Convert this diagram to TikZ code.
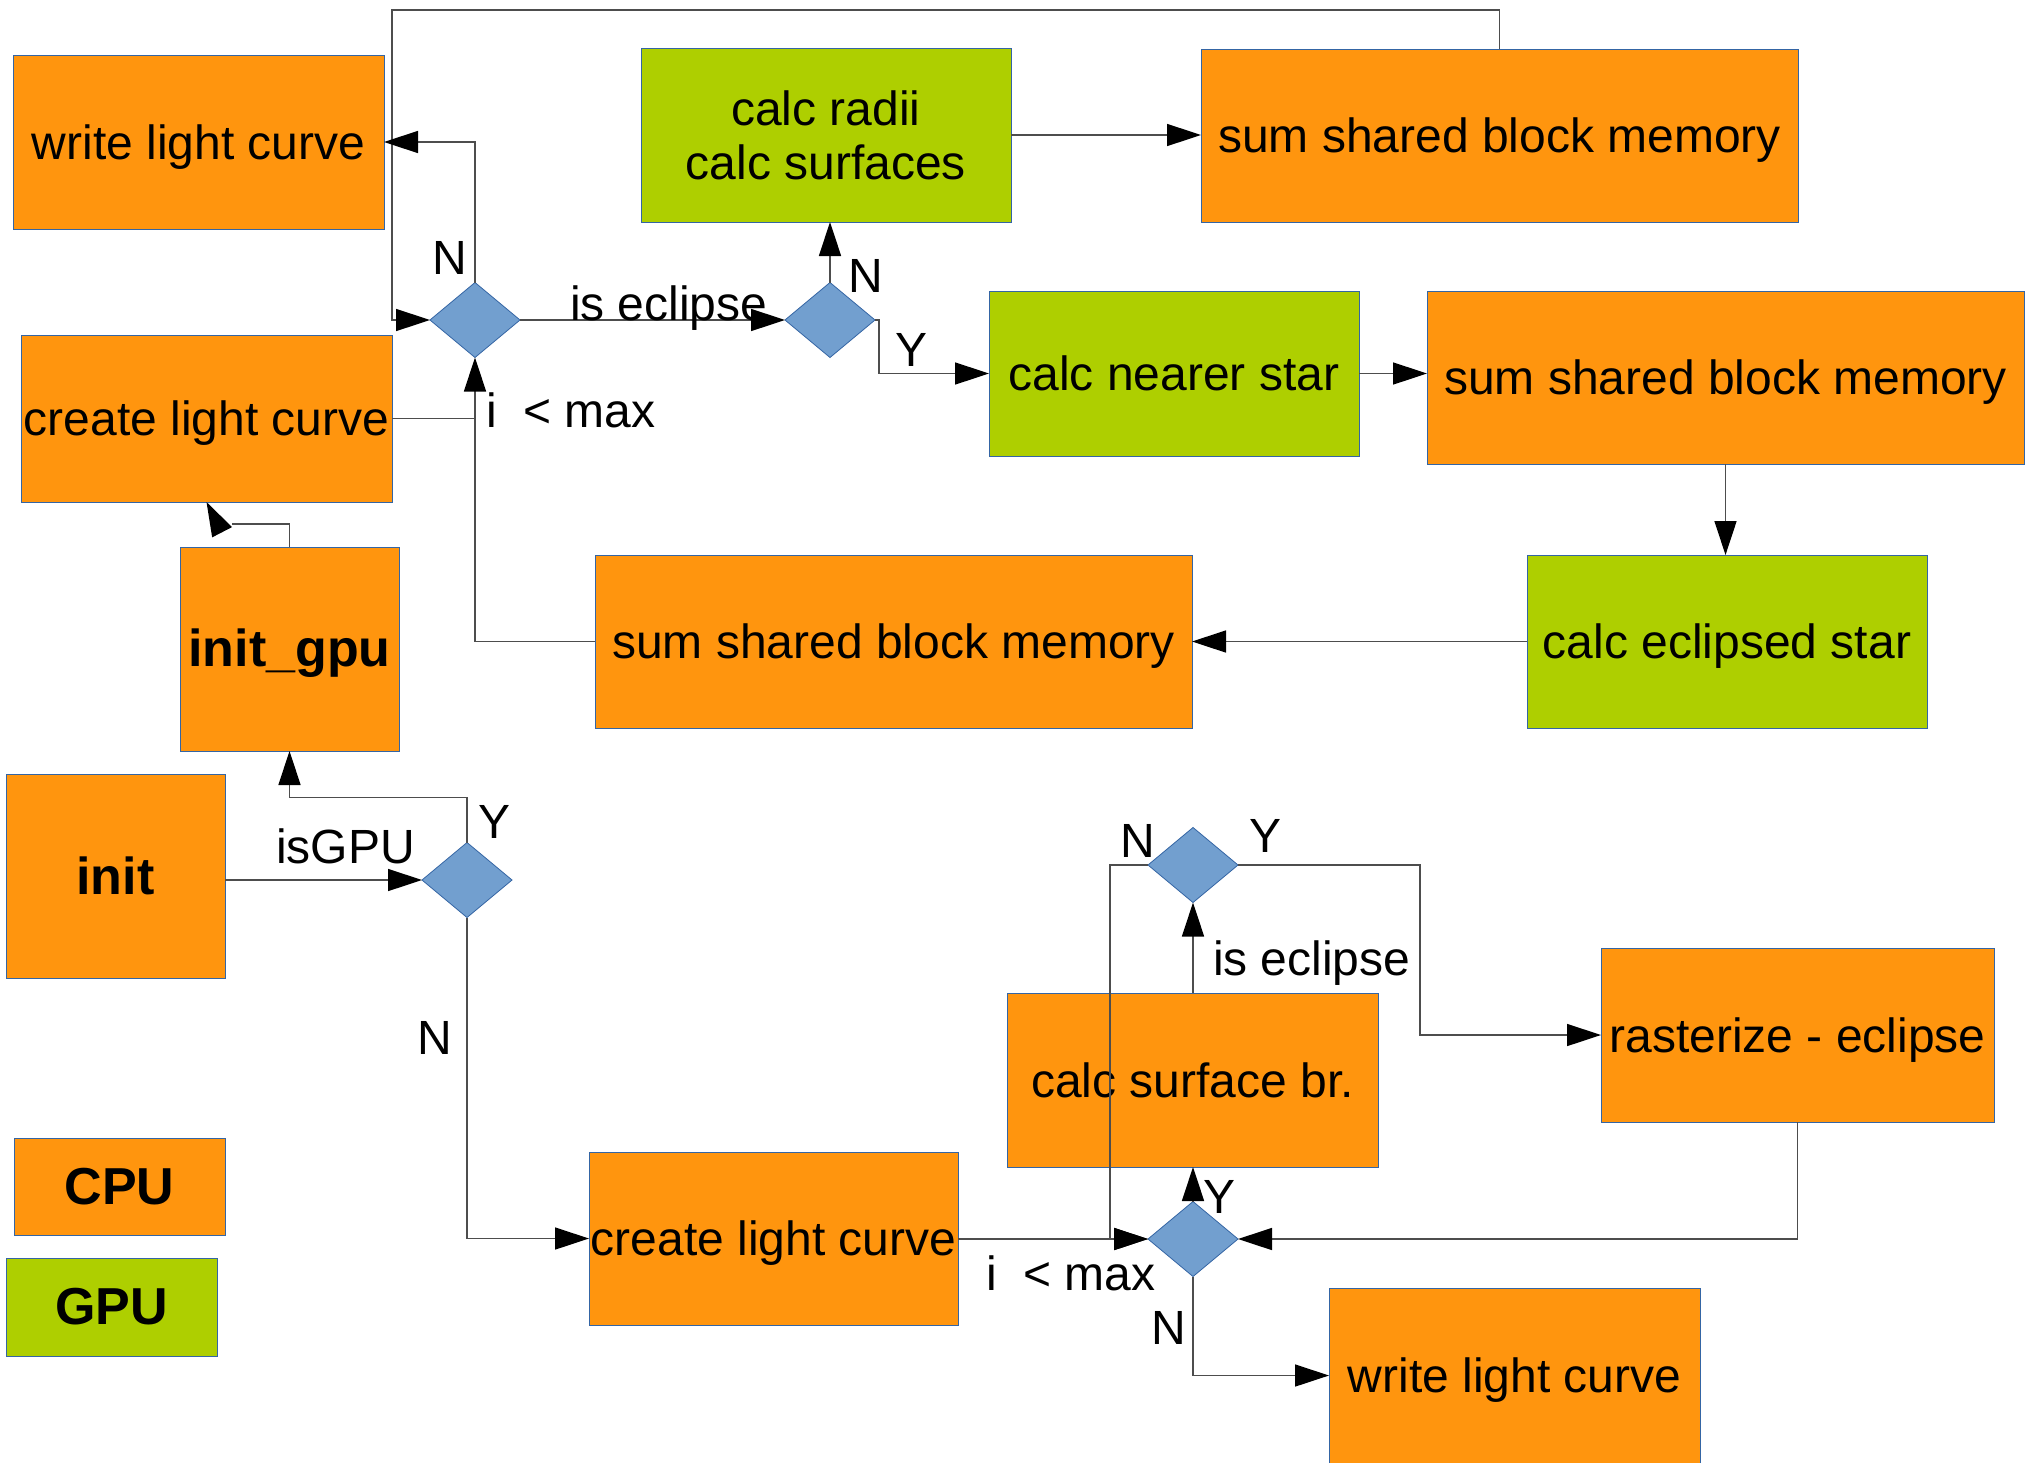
\documentclass[tikz,border=0pt]{standalone}
\usepackage{fontspec}
\setmainfont{Liberation Sans}
\usetikzlibrary{shapes.geometric,arrows.meta}
\definecolor{corange}{HTML}{FF950E}
\definecolor{cgreen}{HTML}{AECF00}
\definecolor{cdia}{HTML}{729FCF}
\definecolor{cborder}{HTML}{3465A4}
\definecolor{cline}{HTML}{4D4D4D}
\begin{document}
\begin{tikzpicture}[x=1pt,y=-1pt,
  box/.style={draw=cborder,line width=1pt,inner sep=0pt,outer sep=0pt,align=center,font=\fontsize{48}{54}\selectfont},
  obox/.style={box,fill=corange},
  gbox/.style={box,fill=cgreen},
  sl/.style={text height=37pt,text depth=3pt},
  bold/.style={font=\fontsize{52}{58}\selectfont\bfseries},
  dia/.style={diamond,draw=cborder,fill=cdia,line width=0.8pt,minimum width=90pt,minimum height=75pt,inner sep=0pt,outer sep=0pt,aspect=1.2},
  conn/.style={draw=cline,line width=1.5pt},
  arr/.style={conn,-{Triangle[length=34pt,width=22pt,color=black]}},
  lbl/.style={font=\fontsize{48}{54}\selectfont,inner sep=0pt,outer sep=0pt}
]
\useasboundingbox[fill=white] (0,0) rectangle (2025,1462);

% boxes
\node[obox,sl,minimum width=371pt,minimum height=174pt] (wlc1) at (198.5,142) {write light curve};
\node[gbox,minimum width=370pt,minimum height=174pt] (radii) at (826,135) {calc radii\\calc surfaces};
\node[obox,sl,minimum width=597pt,minimum height=173pt] (ssbm1) at (1499.5,135.5) {sum shared block memory};
\node[obox,sl,minimum width=371pt,minimum height=167pt] (clc1) at (206.5,418.5) {create light curve};
\node[gbox,sl,minimum width=370pt,minimum height=165pt] (nearer) at (1174,373.5) {calc nearer star};
\node[obox,sl,minimum width=597pt,minimum height=173pt] (ssbm2) at (1725.5,377.5) {sum shared block memory};
\node[obox,bold,text height=40pt,text depth=5pt,minimum width=219pt,minimum height=204pt] (initgpu) at (289.5,649) {init\_gpu};
\node[obox,sl,minimum width=597pt,minimum height=173pt] (ssbm3) at (893.5,641.5) {sum shared block memory};
\node[gbox,sl,minimum width=400pt,minimum height=173pt] (eclipsed) at (1727,641.5) {calc eclipsed star};
\node[obox,bold,minimum width=219pt,minimum height=204pt] (init) at (115.5,876) {init};
\node[obox,bold,minimum width=211pt,minimum height=97pt] (cpu) at (119.5,1186.5) {CPU};
\node[gbox,bold,minimum width=211pt,minimum height=98pt] (gpu) at (111.5,1307) {GPU};
\node[obox,sl,minimum width=371pt,minimum height=174pt] (surfbr) at (1192.5,1080) {calc surface br.};
\node[obox,sl,minimum width=393pt,minimum height=174pt] (raster) at (1797.5,1035) {rasterize - eclipse};
\node[obox,sl,minimum width=369pt,minimum height=173pt] (clc2) at (773.5,1238.5) {create light curve};
\node[obox,sl,minimum width=371pt,minimum height=175pt] (wlc2) at (1514.5,1375.5) {write light curve};

% diamonds
\node[dia] (D1) at (475,320) {};
\node[dia] (D2) at (830,320) {};
\node[dia] (D3) at (467,880) {};
\node[dia] (D4) at (1193,865) {};
\node[dia] (D5) at (1193,1239) {};

% helper coordinates
\coordinate (lt) at (392,10);
\coordinate (gb1) at (232,524);
\coordinate (gb2) at (222,532);

% connectors
\draw[arr] (ssbm1.north) |- (lt) |- (D1.west);
\draw[arr] (D1.north) |- (wlc1.east);
\draw[arr] (D1.east) -- (D2.west);
\draw[arr] (D2.north) -- (D2.north |- radii.south);
\draw[arr] (D2.east) -- ++(4,0) |- (nearer.west);
\draw[arr] (nearer.east) -- (nearer.east -| ssbm2.west);
\draw[arr] (radii.east) -- (radii.east -| ssbm1.west);
\draw[arr] (ssbm2.south) -- (ssbm2.south |- eclipsed.north);
\draw[arr] (eclipsed.west) -- (eclipsed.west -| ssbm3.east);
\draw[arr] (ssbm3.west) -| (D1.south);
\draw[conn] (clc1.east) -- (clc1.east -| D1.south);
\draw[conn] (initgpu.north) |- (gb1);
\draw[arr] (gb2) -- (clc1.south);
\draw[arr] (init.east |- D3.west) -- (D3.west);
\draw[arr] (D3.north) -- ++(0,-45) -| (initgpu.south);
\draw[arr] (D3.south) |- (clc2.west);
\draw[arr] (clc2.east |- D5.west) -- (D5.west);
\draw[arr] (D5.north) -- (D5.north |- surfbr.south);
\draw[arr] (raster.south) |- (D5.east);
\draw[arr] (D5.south) |- (wlc2.west);
\draw[arr] (D4.south |- surfbr.north) -- (D4.south);
\draw[arr] (D4.west) -- ++(-38,0) |- (D5.west);
\draw[arr] (D4.east) -- ++(182,0) |- (raster.west);

% labels
\node[lbl] (lN1) at (450,258) {N};
\node[lbl,anchor=base west] (lie1) at (570,320) {is eclipse};
\node[lbl] (lN2) at (866,276) {N};
\node[lbl] (lY2) at (911,350) {Y};
\node[lbl,anchor=base west] (lmax1) at (486,427) {i~ < max};
\node[lbl,anchor=base west] (lgpu) at (276,863) {isGPU};
\node[lbl] (lY3) at (495,822) {Y};
\node[lbl] (lN3) at (435,1038) {N};
\node[lbl,anchor=base west] (lmax2) at (986,1290) {i~ < max};
\node[lbl] (lY5) at (1219,1197) {Y};
\node[lbl] (lN5) at (1169,1328) {N};
\node[lbl,anchor=base west] (lie2) at (1213,975) {is eclipse};
\node[lbl] (lN4) at (1138,841) {N};
\node[lbl] (lY4) at (1265,836) {Y};
\end{tikzpicture}
\end{document}
